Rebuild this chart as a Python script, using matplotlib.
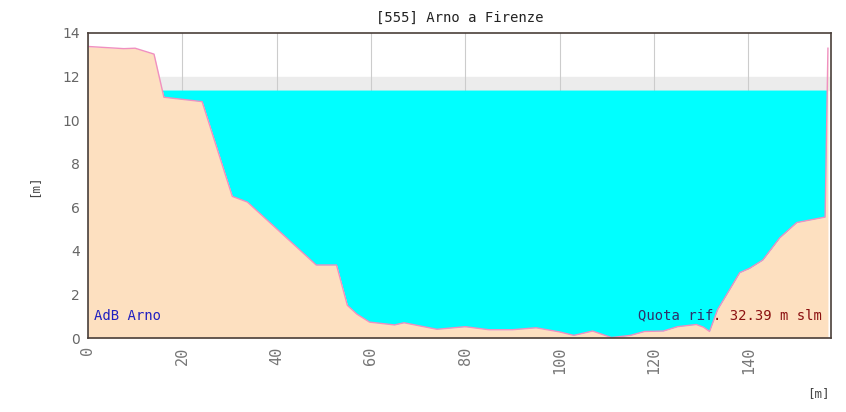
import numpy as np
import matplotlib.pyplot as plt

# sezione trasversale (distanza [m], quota [m])
dist = [0, 7.6, 10, 14.0, 16.1, 24.2, 30.6, 33.8, 48.4, 52.7, 55.0, 57.0, 59.7,
        65, 67, 74, 80, 85, 90, 95, 100, 103, 107, 111, 115, 118, 122, 125,
        129, 130.5, 131.8, 133.5, 136, 138.2, 140.3, 143.1, 146.7, 150.3,
        156.3, 156.9]
quota = [13.38, 13.28, 13.3, 13.03, 11.05, 10.85, 6.5, 6.24, 3.35, 3.35, 1.5,
         1.1, 0.73, 0.6, 0.7, 0.4, 0.52, 0.38, 0.38, 0.47, 0.28, 0.12, 0.32,
         0.02, 0.12, 0.3, 0.32, 0.52, 0.62, 0.5, 0.3, 1.3, 2.2, 3.0, 3.2,
         3.58, 4.6, 5.3, 5.55, 13.3]
livello = 11.38
soglia = 12.0
x_ticks = [0, 20, 40, 60, 80, 100, 120, 140]
y_ticks = [0, 2, 4, 6, 8, 10, 12, 14]

x = np.array(dist)
y = np.array(quota)
xf = np.linspace(x[0], x[-1], 3000)
yf = np.interp(xf, x, y)

fig = plt.figure(figsize=(8.46, 4.12), dpi=100)
ax = fig.add_axes([0.104, 0.1796, 0.878, 0.7404])

ax.set_xlim(0, 157.5)
ax.set_ylim(0, 14)
ax.set_xticks(x_ticks)
ax.set_yticks(y_ticks)
ax.grid(axis='x', color='#cccccc', linewidth=0.8, zorder=1)
ax.axhspan(livello, soglia, color='#ececec', zorder=0.5)

ax.fill_between(xf, yf, livello, where=yf < livello, color='#00ffff',
                linewidth=0, zorder=2)
ax.fill_between(x, y, 0, color='#fde0c0', linewidth=0, zorder=3)
ax.plot(x, y, color='#f090c0', linewidth=1, zorder=4)

mono = 'DejaVu Sans Mono'
ax.set_title('[555] Arno a Firenze', family=mono, fontsize=10,
             color='#222222', pad=8)
ax.set_ylabel('[m]', family=mono, fontsize=9, color='#444444', labelpad=16)
fig.text(0.981, 0.03, '[m]', family=mono, fontsize=9,
         color='#444444', ha='right', va='bottom')

for lab in ax.get_xticklabels():
    lab.set_rotation(90)
    lab.set_family(mono)
    lab.set_fontsize(11)
    lab.set_color('#777777')
for lab in ax.get_yticklabels():
    lab.set_fontsize(10)
    lab.set_color('#666666')
ax.tick_params(length=0, pad=6)

for s in ax.spines.values():
    s.set_color('#4a3f3a')
    s.set_linewidth(1.2)
    s.set_zorder(6)

ax.text(0.008, 0.05, 'AdB Arno', transform=ax.transAxes,
        family=mono, fontsize=10, color='#2020c0',
        va='bottom', ha='left', zorder=7)
# quota di riferimento: prima parte scura, seconda rossa
fs = 10
ax.text(0.988, 0.05, '. 32.39 m slm', transform=ax.transAxes,
        family=mono, fontsize=fs, color='#8b1010',
        va='bottom', ha='right', zorder=7)
ax.annotate('Quota rif', xy=(0.988, 0.05), xycoords='axes fraction',
            xytext=(-13 * 0.602 * fs, 0), textcoords='offset points',
            family=mono, fontsize=fs, color='#30306a',
            va='bottom', ha='right', zorder=7)

fig.savefig('out.png', dpi=100)
